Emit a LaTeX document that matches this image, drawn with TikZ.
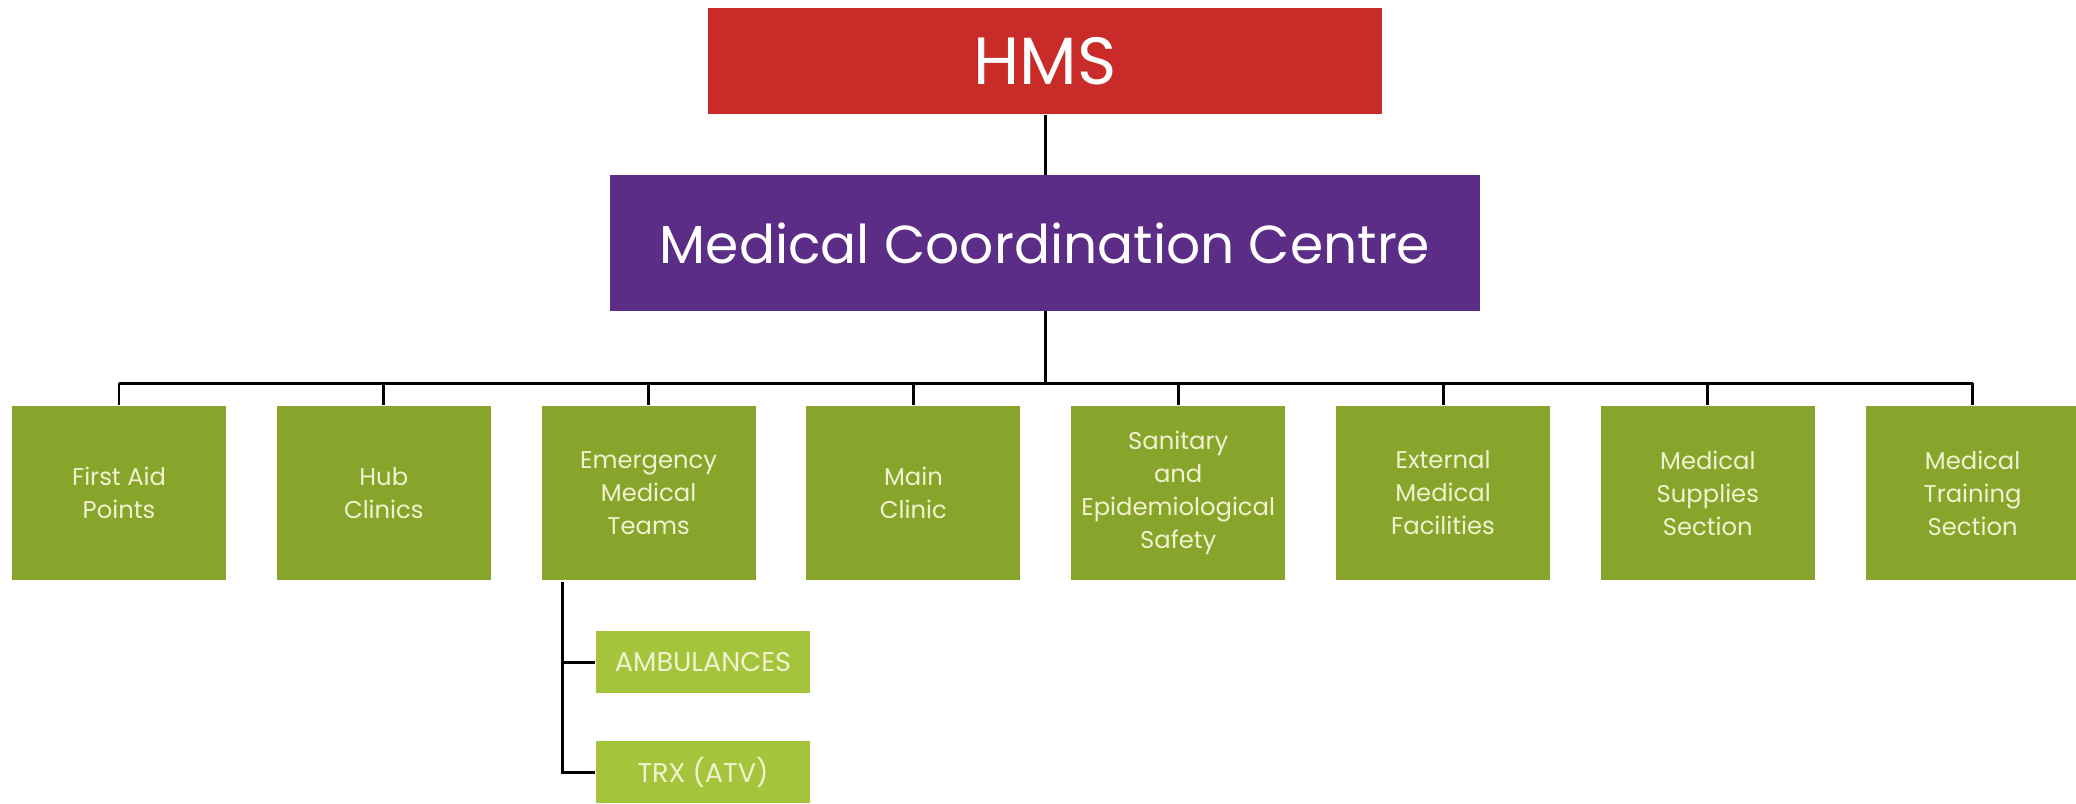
\documentclass[tikz,border=0pt]{standalone}
\usepackage{fontspec}
\setmainfont{Poppins}
\usepackage{xcolor}
\definecolor{hmsred}{HTML}{C92C28}
\definecolor{mccpurple}{HTML}{5C2D86}
\definecolor{unitgreen}{HTML}{86A52A}
\definecolor{subgreen}{HTML}{A3C43B}
\definecolor{cream}{HTML}{F2F2D0}
\tikzset{
	topbox/.style={fill=#1,text=white,inner sep=0pt,anchor=center},
	unitbox/.style={fill=unitgreen,text=cream,inner sep=0pt,minimum width=2.14cm,minimum height=1.74cm,align=center,font=\fontsize{6.9}{9.4}\selectfont},
	subbox/.style={fill=subgreen,text=cream,inner sep=0pt,minimum width=2.14cm,minimum height=0.61cm,font=\fontsize{7.7}{9}\selectfont},
	link/.style={black,line width=0.85pt}
}

\begin{document}
\begin{tikzpicture}[x=0.01cm,y=-0.01cm]
	\useasboundingbox (0,0) rectangle (2076,803);
	
	\node[topbox=hmsred,minimum width=6.74cm,minimum height=1.06cm,font=\fontsize{19}{22}\selectfont] (hms) at (1045,61) {HMS};
	\node[topbox=mccpurple,minimum width=8.69cm,minimum height=1.35cm,font=\fontsize{15.2}{18}\selectfont] (mcc) at (1045,243) {Medical Coordination Centre};
	
	% units
	\foreach \i/\txt in {1/{First Aid\\Points},2/{Hub\\Clinics},3/{Emergency\\Medical\\Teams},4/{Main\\Clinic},5/{Sanitary\\and\\Epidemiological\\Safety},6/{External\\Medical\\Facilities},7/{Medical\\Supplies\\Section},8/{Medical\\Training\\Section}}
		\node[unitbox] (u\i) at ({119+264.8*(\i-1)},493) {\txt};
	
	\node[subbox] (amb) at (703,662) {AMBULANCES};
	\node[subbox] (trx) at (703,772) {TRX (ATV)};
	
	\coordinate (bus) at (1045,383);
	\coordinate (subtop) at (562,582);
	
	\draw[link] (hms) -- (mcc);
	\draw[link] (mcc) -- (bus);
	\draw[link] (u1.north |- bus) -- (u8.north |- bus);
	\foreach \i in {1,...,8}
		\draw[link] (u\i.north |- bus) -- (u\i.north);
	
	\draw[link] (subtop) |- (trx.west);
	\draw[link] (amb.west -| subtop) -- (amb.west);
	
\end{tikzpicture}
\end{document}
